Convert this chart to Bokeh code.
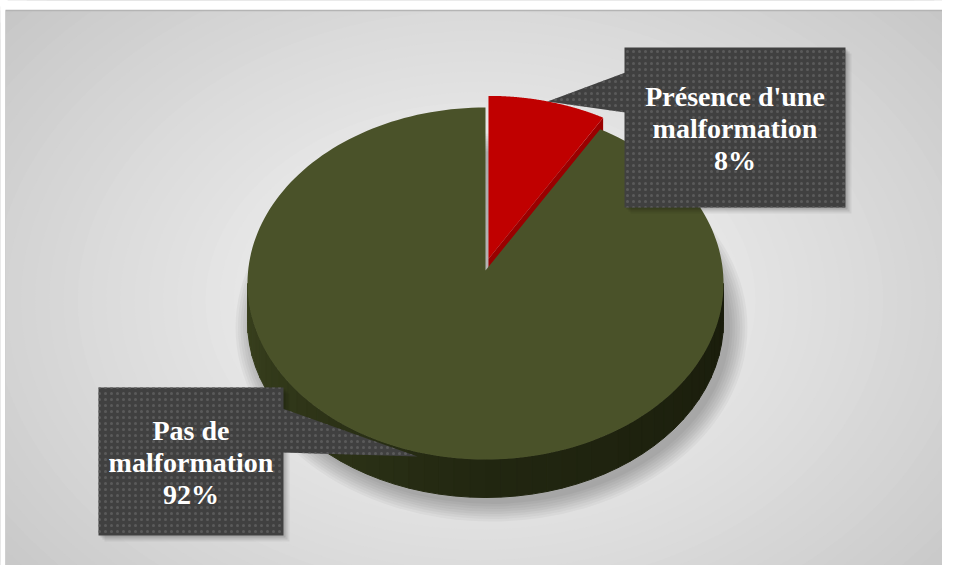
import numpy as np
from bokeh.plotting import figure
from bokeh.models import Range1d
from bokeh.core.properties import value
from bokeh.embed import file_html
from bokeh.resources import INLINE

# ---- data ----
categories = ["Présence d'une malformation", "Pas de malformation"]
values = [8, 92]
label_lines = [["Présence d'une", "malformation"], ["Pas de", "malformation"]]
top_colors = ["#c00000", "#4a5229"]
side_colors = ["#9a0000", "#262b13"]
explode = [12, 0]

# ---- layout (screen-like coordinates) ----
W, H = 942, 565
p = figure(width=W, height=H, output_backend="svg", toolbar_location=None,
           x_range=Range1d(0, W), y_range=Range1d(H, 0),
           min_border=0, background_fill_color="white", border_fill_color="white")
p.axis.visible = False
p.grid.visible = False
p.outline_line_color = None

# panel base
PL, PR, PT, PB = 5, 955, 10, 578
p.quad(left=PL, right=PR, top=PT, bottom=PB, fill_color="#c6c6c6", line_color=None)

# background radial gradient
N = 45
gx, gy = 480, 300
for i in range(N):
    t = i / (N - 1)
    s = 1.0 - t
    c0 = np.array([0xc6, 0xc6, 0xc6]); c1 = np.array([0xf8, 0xf8, 0xf8])
    c = (c0 + (c1 - c0) * t ** 0.9).astype(int)
    col = "#%02x%02x%02x" % tuple(c)
    p.ellipse(x=gx, y=gy, width=1250 * s + 10, height=900 * s + 8,
              fill_color=col, line_color=None)
# white margins outside the panel
p.quad(left=-5, right=PL, top=-5, bottom=H + 5, fill_color="white", line_color=None)
p.quad(left=-5, right=W + 5, top=-5, bottom=PT, fill_color="white", line_color=None)
p.segment(x0=PL, y0=PT, x1=PR, y1=PT, line_color="#b4b4b4", line_width=1.5)
p.segment(x0=PL, y0=PT, x1=PL, y1=PB, line_color="#d0d0d0", line_width=1)

cx, cy = 485, 283
ax_, ay_ = 485, 270
rx, ry = 238, 176
depth = 38

def P(theta_deg):
    th = np.radians(theta_deg)
    return cx + rx * np.cos(th), cy - ry * np.sin(th)

# soft shadow
for k in range(8):
    p.ellipse(x=cx + 6, y=cy + depth + 6, width=2 * (rx + 18 - k * 2.5), height=2 * (ry + 18 - k * 2.5),
              fill_color="black", fill_alpha=0.035, line_color=None)

total = float(sum(values))
angles = []
a = 90.0
for v in values:
    a1 = a - 360.0 * v / total
    angles.append((a, a1))
    a = a1

# green side (front, visible from 180 to 360 degrees)
seg = 48
ts = np.linspace(180, 360, seg + 1)
xs_list, ys_list, cols = [], [], []
for i in range(seg):
    t0, t1 = ts[i], ts[i + 1]
    x0_, y0_ = P(t0); x1_, y1_ = P(t1)
    f = i / (seg - 1)
    cL = np.array([0x3a, 0x41, 0x1e]); cM = np.array([0x22, 0x27, 0x11]); cR = np.array([0x1a, 0x1d, 0x0c])
    c = cL + (cM - cL) * (f / 0.5) if f < 0.5 else cM + (cR - cM) * ((f - 0.5) / 0.5)
    cols.append("#%02x%02x%02x" % tuple(c.astype(int)))
    xs_list.append([x0_, x1_, x1_, x0_])
    ys_list.append([y0_, y1_, y1_ + depth, y0_ + depth])
p.patches(xs=xs_list, ys=ys_list, fill_color=cols, line_color=cols, line_width=1)

# red cut face (visible strip)
a0, a1 = angles[0]
bis = np.radians((a0 + a1) / 2)
odx, ody = explode[0] * np.cos(bis), -explode[0] * np.sin(bis)
rxp, ryp = P(a1)
p.patch(x=[ax_ + odx, rxp + odx, rxp + odx, ax_ + odx],
        y=[ay_ + ody, ryp + ody, ryp + ody + depth, ay_ + ody + depth],
        fill_color=side_colors[0], line_color=None)

# top faces: green first then red
for idx in [1, 0]:
    s0, s1 = angles[idx]
    bis = np.radians((s0 + s1) / 2)
    dx, dy = explode[idx] * np.cos(bis), -explode[idx] * np.sin(bis)
    th = np.linspace(s0, s1, 200)
    px = [ax_ + dx] + [P(t)[0] + dx for t in th]
    py = [ay_ + dy] + [P(t)[1] + dy for t in th]
    p.patch(x=px, y=py, fill_color=top_colors[idx], line_color=None)

# label boxes
boxes = [(624, 845, 47, 207), (98, 283, 387, 535)]
pointers = [([625, 547, 625], [72, 101, 112]), ([282, 417, 282], [408, 456, 452])]
font = value("Liberation Serif")
for i in range(len(values)):
    l, r, t, b = boxes[i]
    for k, al in enumerate([0.10, 0.08, 0.06]):
        o = 2 + k * 2
        p.quad(left=l + o, right=r + o, top=t + o, bottom=b + o, fill_color="black",
               fill_alpha=al, line_color=None)
    px, py = pointers[i]
    p.patch(x=px, y=py, fill_color="#404040", line_color=None,
            hatch_pattern="dot", hatch_color="#5a5a5a", hatch_scale=6, hatch_weight=1.5)
    p.quad(left=l, right=r, top=t, bottom=b, fill_color="#404040", line_color=None,
           hatch_pattern="dot", hatch_color="#5a5a5a", hatch_scale=6, hatch_weight=1.5)
    lines = label_lines[i] + [f"{values[i]}%"]
    xc = (l + r) / 2
    ym = (t + b) / 2
    n = len(lines)
    ys = [ym + 1 + (j - (n - 1) / 2) * 32 for j in range(n)]
    p.text(x=[xc] * n, y=ys, text=lines, text_font=font, text_font_style="bold",
           text_font_size="28px", text_color="white", text_align="center",
           text_baseline="alphabetic")

open("out.html", "w").write(file_html(p, INLINE))
